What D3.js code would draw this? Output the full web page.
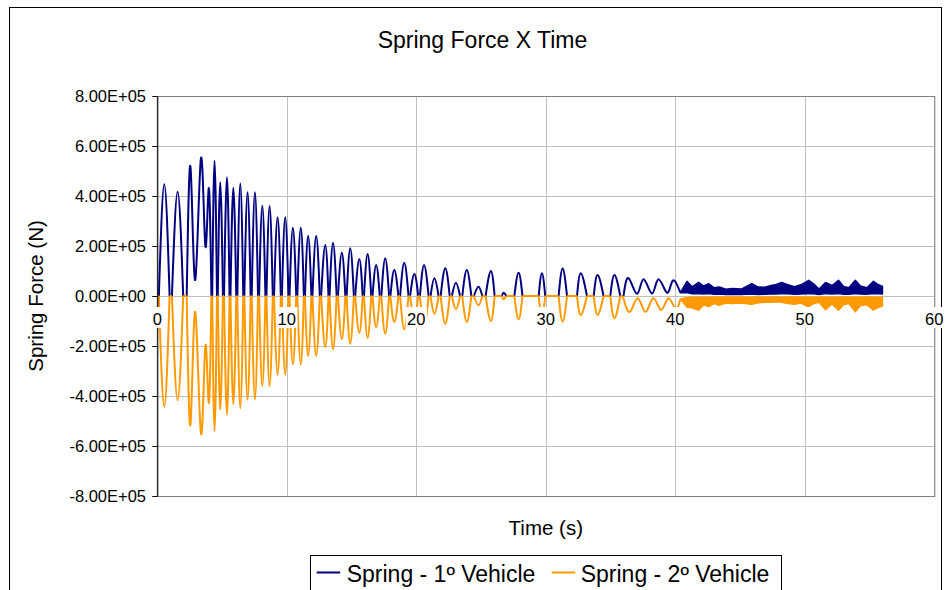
<!DOCTYPE html>
<html><head><meta charset="utf-8">
<script src="https://cdn.jsdelivr.net/npm/d3@7"></script>
<style>
body{margin:0;background:#fff}
svg{display:block}
text{font-family:"Liberation Sans",Arial,sans-serif;fill:#000}
</style>
</head><body>
<svg id="chart" width="946" height="590"></svg>
<script>
// ---------------- DATA ----------------
const chartTitle = "Spring Force X Time";
const xTitle = "Time (s)";
const yTitle = "Spring Force (N)";
const seriesNames = ["Spring - 1º Vehicle", "Spring - 2º Vehicle"];
const xTicks = [0, 10, 20, 30, 40, 50, 60];
const yTicks = [-8e5, -6e5, -4e5, -2e5, 0, 2e5, 4e5, 6e5, 8e5];
const UNIT = 1e5; // values below are in units of 1e5 N

// [time (s), force (1e5 N)] (zeros, peaks, valleys)
const spring1 = [
[0,0],[0.12,0],[0.54,4.47],[0.95,0],[1.13,0],[1.57,4.17],[2.00,0],[2.27,0],[2.57,5.13],[2.93,0.64],[3.37,5.51],[3.71,2.00],[3.97,4.31],[4.18,0],
[4.24,0],[4.42,5.41],[4.61,0],[4.67,0],[4.86,4.55],[5.07,0],[5.15,0],[5.38,4.75],[5.58,0],[5.65,0],[5.87,4.33],[6.10,0],[6.18,0],[6.41,4.50],[6.64,0],
[6.72,0],[6.97,4.15],[7.21,0],[7.29,0],[7.54,4.15],[7.78,0],[7.86,0],[8.11,3.61],[8.35,0],[8.43,0],[8.67,3.60],[8.92,0],[9.01,0],[9.29,3.15],[9.54,0],
[9.62,0],[9.88,3.15],[10.13,0],[10.21,0],[10.47,2.73],[10.73,0],[10.81,0],[11.08,2.73],[11.32,0],[11.40,0],[11.65,2.40],[11.90,0],[11.98,0],[12.27,2.40],[12.55,0],
[12.65,0],[12.97,2.04],[13.22,0],[13.30,0],[13.57,2.13],[13.85,0],[13.95,0],[14.25,1.73],[14.52,0],[14.62,0],[14.90,1.91],[15.18,0],[15.28,0],[15.60,1.48],[15.86,0],
[15.96,0],[16.24,1.68],[16.52,0],[16.62,0],[16.90,1.24],[17.18,0],[17.30,0],[17.60,1.51],[17.90,0],[18.00,0],[18.30,1.04],[18.62,0],[18.75,0],[19.07,1.33],[19.40,0],
[19.52,0],[19.85,0.88],[20.15,0],[20.28,0],[20.60,1.24],[20.95,0],[21.10,0],[21.40,0.71],[21.72,0],[21.88,0],[22.24,1.11],[22.58,0],[22.75,0],[23.06,0.53],[23.38,0],
[23.55,0],[23.90,1.04],[24.25,0],[24.45,0],[24.80,0.37],[25.10,0],[25.35,0],[25.76,1.00],[26.05,0],[26.60,0],[26.75,0.13],[26.95,0],[27.57,0],[27.90,0.93],[28.20,0],
[29.45,0],[29.70,0.91],[29.96,0],[30.99,0],[31.30,1.10],[31.64,0],[32.41,0],[32.70,0.91],[33.18,0],[33.70,0],[34.00,0.84],[34.46,0],[34.98,0],[35.30,0.84],[35.75,0],
[36.00,0],[36.40,0.71],[37.05,0.09],[37.55,0.67],[38.20,0.10],[38.70,0.67],[39.36,0.13],[39.80,0.61],[40.40,0.13]
];
const spring2 = [
[0,0],[0.12,0],[0.54,-4.43],[0.95,0],[1.13,0],[1.57,-4.17],[2.00,0],[2.27,0],[2.57,-5.10],[2.93,-0.63],[3.37,-5.50],[3.71,-2.00],[3.97,-4.27],[4.18,0],
[4.24,0],[4.42,-5.41],[4.61,0],[4.67,0],[4.86,-4.55],[5.07,0],[5.15,0],[5.38,-4.75],[5.58,0],[5.65,0],[5.87,-4.33],[6.10,0],[6.18,0],[6.41,-4.50],[6.64,0],
[6.72,0],[6.97,-4.15],[7.21,0],[7.29,0],[7.54,-4.15],[7.78,0],[7.86,0],[8.11,-3.61],[8.35,0],[8.43,0],[8.67,-3.60],[8.92,0],[9.01,0],[9.29,-3.15],[9.54,0],
[9.62,0],[9.88,-3.15],[10.13,0],[10.21,0],[10.47,-2.73],[10.73,0],[10.81,0],[11.08,-2.73],[11.32,0],[11.40,0],[11.65,-2.40],[11.90,0],[11.98,0],[12.27,-2.40],[12.55,0],
[12.65,0],[12.97,-2.04],[13.22,0],[13.30,0],[13.57,-2.13],[13.85,0],[13.95,0],[14.25,-1.73],[14.52,0],[14.62,0],[14.90,-1.91],[15.18,0],[15.28,0],[15.60,-1.48],[15.86,0],
[15.96,0],[16.24,-1.68],[16.52,0],[16.62,0],[16.90,-1.24],[17.18,0],[17.30,0],[17.60,-1.51],[17.90,0],[18.00,0],[18.30,-1.04],[18.62,0],[18.75,0],[19.07,-1.33],[19.40,0],
[19.52,0],[19.85,-0.88],[20.15,0],[20.28,0],[20.60,-1.24],[20.95,0],[21.10,0],[21.40,-0.71],[21.72,0],[21.88,0],[22.24,-1.11],[22.58,0],[22.75,0],[23.06,-0.53],[23.38,0],
[23.55,0],[23.90,-1.04],[24.25,0],[24.45,0],[24.80,-0.37],[25.10,0],[25.35,0],[25.76,-1.00],[26.05,0],[26.60,0],[26.75,-0.13],[26.95,0],[27.57,0],[27.90,-0.93],[28.20,0],
[29.45,0],[29.70,-0.83],[29.96,0],[30.99,0],[31.30,-1.03],[31.64,0],[32.41,0],[32.70,-0.76],[33.18,0],[33.70,0],[34.00,-0.76],[34.46,0],[34.98,0],[35.30,-0.89],[35.75,0],
[35.95,0],[36.50,-0.63],[37.10,-0.09],[37.70,-0.63],[38.30,-0.09],[38.90,-0.56],[39.45,-0.10],[40.00,-0.49],[40.40,-0.12]
];
// noisy tail: [time (s), lower envelope, upper envelope] in 1e5 N
const spring1Band = [
[40.4,0.13,0.15],[40.9,0.14,0.59],[41.3,0.09,0.37],[41.8,0.10,0.55],[42.2,0.08,0.40],[42.6,0.10,0.49],[43.0,0.07,0.33],[43.4,0.08,0.36],
[43.9,0.06,0.27],[44.4,0.07,0.30],[45.1,0.06,0.28],[45.9,0.08,0.50],[46.4,0.06,0.36],[46.9,0.07,0.35],[47.4,0.08,0.42],[47.8,0.08,0.46],
[48.2,0.10,0.54],[48.7,0.09,0.45],[49.2,0.07,0.37],[49.7,0.08,0.45],[50.3,0.10,0.63],[50.7,0.09,0.48],[51.1,0.06,0.28],[51.6,0.10,0.54],
[52.1,0.08,0.42],[52.6,0.10,0.63],[53.0,0.07,0.38],[53.4,0.07,0.33],[53.9,0.10,0.63],[54.3,0.08,0.40],[54.8,0.07,0.33],[55.3,0.10,0.59],
[55.7,0.09,0.45],[56.0,0.08,0.38]
];
const spring2Band = [
[40.4,-0.12,-0.12],[40.9,-0.45,-0.06],[41.3,-0.47,-0.05],[41.8,-0.57,-0.05],[42.2,-0.35,-0.04],[42.6,-0.43,-0.05],[43.0,-0.30,-0.04],[43.4,-0.37,-0.04],
[43.9,-0.28,-0.04],[44.4,-0.30,-0.04],[45.1,-0.28,-0.04],[45.9,-0.33,-0.05],[46.4,-0.27,-0.04],[46.9,-0.25,-0.04],[47.4,-0.25,-0.04],[47.8,-0.23,-0.04],
[48.2,-0.25,-0.05],[48.7,-0.30,-0.04],[49.2,-0.33,-0.04],[49.7,-0.28,-0.04],[50.3,-0.43,-0.05],[50.7,-0.30,-0.04],[51.1,-0.25,-0.04],[51.6,-0.55,-0.05],
[52.1,-0.32,-0.04],[52.6,-0.57,-0.05],[53.0,-0.35,-0.04],[53.4,-0.30,-0.04],[53.9,-0.63,-0.05],[54.3,-0.38,-0.04],[54.8,-0.35,-0.04],[55.3,-0.57,-0.05],
[55.7,-0.45,-0.04],[56.0,-0.40,-0.04]
];
const colors = ["#000080", "#FF9900"];

// ---------------- CHART ----------------
const svg = d3.select("#chart");
const L = 157.3, R = 934.3, T = 96, B = 496;
const x = d3.scaleLinear().domain([0, 60]).range([L, R]);
const y = d3.scaleLinear().domain([-8e5, 8e5]).range([B, T]);

// outer frame
svg.append("rect").attr("x", 9.5).attr("y", 7.5).attr("width", 932).attr("height", 620)
  .attr("fill", "#fff").attr("stroke", "#000").attr("stroke-width", 1);

// gridlines
const grid = svg.append("g");
grid.selectAll("line.h").data(yTicks).join("line")
  .attr("x1", L).attr("x2", R).attr("y1", d => Math.round(y(d)) + 0.5).attr("y2", d => Math.round(y(d)) + 0.5)
  .attr("stroke", "#c0c0c0").attr("stroke-width", 1);
grid.selectAll("line.v").data(xTicks).join("line")
  .attr("y1", T).attr("y2", B).attr("x1", d => Math.round(x(d)) + 0.5).attr("x2", d => Math.round(x(d)) + 0.5)
  .attr("stroke", "#c0c0c0").attr("stroke-width", 1);
// plot border
svg.append("rect").attr("x", L).attr("y", T + 0.5).attr("width", R - L + 0.5).attr("height", B - T)
  .attr("fill", "none").attr("stroke", "#808080").attr("stroke-width", 1);

// series lines: split into lobes at zero points, each lobe drawn with a natural spline
const line = d3.line().x(d => x(d[0])).y(d => y(d[1] * UNIT)).curve(d3.curveNatural);
function lobes(data) {
  const groups = [];
  let cur = [data[0]];
  for (let i = 1; i < data.length; i++) {
    cur.push(data[i]);
    if (data[i][1] === 0) { groups.push(cur); cur = [data[i]]; }
  }
  if (cur.length > 1) groups.push(cur);
  return groups;
}
const area = d3.area().x(d => x(d[0])).y0(d => y(d[1] * UNIT)).y1(d => y(d[2] * UNIT)).curve(d3.curveLinear);

function drawSeries(data, band, color) {
  const g = svg.append("g");
  g.selectAll("path.l").data(lobes(data)).join("path")
    .attr("d", line).attr("fill", "none").attr("stroke", color)
    .attr("stroke-width", 2).attr("stroke-linejoin", "round");
  g.append("path").datum(band).attr("d", area)
    .attr("fill", color).attr("stroke", color).attr("stroke-width", 1.4).attr("stroke-linejoin", "round");
}
drawSeries(spring1, spring1Band, colors[0]);
drawSeries(spring2, spring2Band, colors[1]);

// y axis
const fmtE = v => {
  if (v === 0) return "0.00E+00";
  const e = Math.floor(Math.log10(Math.abs(v)));
  const m = v / Math.pow(10, e);
  return m.toFixed(2) + "E" + (e < 0 ? "-" : "+") + String(Math.abs(e)).padStart(2, "0");
};
const yAxis = svg.append("g").attr("transform", `translate(${L},0)`)
  .call(d3.axisLeft(y).tickValues(yTicks).tickFormat(fmtE).tickSize(5).tickSizeOuter(0).tickPadding(6.3));
yAxis.select(".domain").attr("stroke", "#000");
yAxis.selectAll(".tick line").attr("stroke", "#000");
yAxis.selectAll("text").attr("font-size", 16.5).attr("font-family", '"Liberation Sans",Arial,sans-serif');
yAxis.attr("font-size", 16.5);

// x tick labels (on the zero line, with white background)
const xl = svg.append("g");
xTicks.forEach(t => {
  const txt = xl.append("text").attr("x", x(t)).attr("y", 325).attr("text-anchor", "middle")
    .attr("font-size", 16.5).text(t);
  const bb = txt.node().getBBox();
  xl.insert("rect", "text").attr("x", bb.x - 1.5).attr("y", 307).attr("width", bb.width + 3).attr("height", 21)
    .attr("fill", "#fff");
});

// titles
svg.append("text").attr("x", 482.5).attr("y", 48).attr("text-anchor", "middle")
  .attr("font-size", 23).text(chartTitle);
svg.append("text").attr("x", (L + R) / 2).attr("y", 535).attr("text-anchor", "middle")
  .attr("font-size", 20.5).text(xTitle);
svg.append("text").attr("transform", "translate(43,296) rotate(-90)").attr("text-anchor", "middle")
  .attr("font-size", 20.5).text(yTitle);

// legend
const lg = svg.append("g");
lg.append("rect").attr("x", 310.5).attr("y", 555.5).attr("width", 471).attr("height", 44)
  .attr("fill", "#fff").attr("stroke", "#000").attr("stroke-width", 1);
const legendPos = [{lx: 316.7, tx: 346.7}, {lx: 551.7, tx: 580.7}];
seriesNames.forEach((name, i) => {
  lg.append("line").attr("x1", legendPos[i].lx).attr("x2", legendPos[i].lx + 23.5)
    .attr("y1", 572.5).attr("y2", 572.5).attr("stroke", colors[i]).attr("stroke-width", 2);
  lg.append("text").attr("x", legendPos[i].tx).attr("y", 581.5).attr("font-size", 23).text(name);
});
</script>
</body></html>
